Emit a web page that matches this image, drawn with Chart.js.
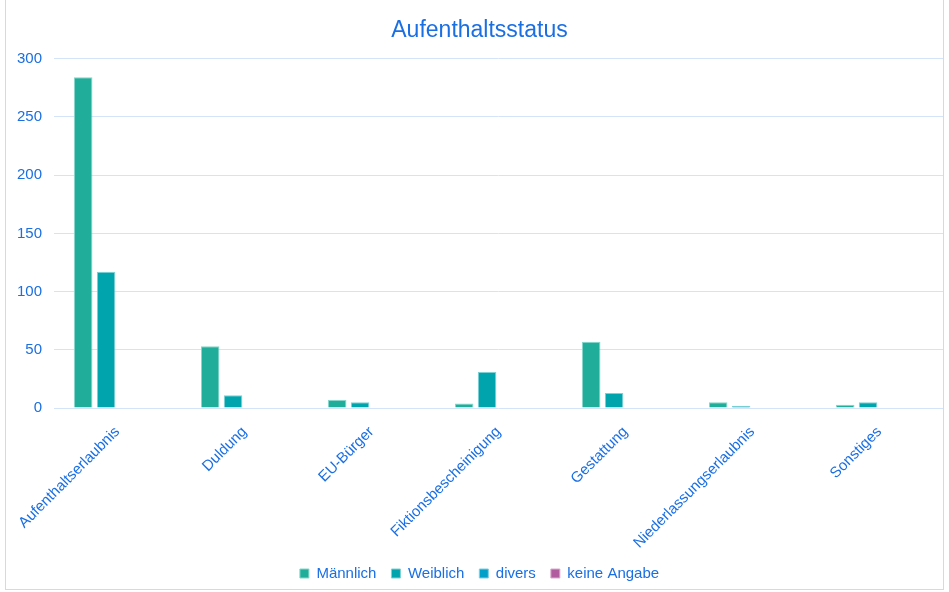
<!DOCTYPE html>
<html>
<head>
<meta charset="utf-8">
<script src="https://cdn.jsdelivr.net/npm/chart.js@4/dist/chart.umd.min.js"></script>
<style>
  html, body { margin: 0; padding: 0; background: #fff; }
  .wrap {
    position: absolute; left: 5px; top: 0; width: 939px; height: 590px;
    border: 1px solid #c9dcf3; border-top: none; box-sizing: border-box;
  }
</style>
</head>
<body>
<div class="wrap"><canvas id="chart"></canvas></div>
<script>
const categories = ['Aufenthaltserlaubnis', 'Duldung', 'EU-Bürger', 'Fiktionsbescheinigung', 'Gestattung', 'Niederlassungserlaubnis', 'Sonstiges'];
const maennlich = [284, 53, 7, 4, 57, 5, 3];
const weiblich = [117, 11, 5, 31, 13, 2, 5];
const divers = [0, 0, 0, 0, 0, 0, 0];
const keineAngabe = [0, 0, 0, 0, 0, 0, 0];

const textColor = '#1a6fe3';
const gridColor = '#d3e3f8';
const fontFamily = 'Liberation Sans, Arial, sans-serif';

const mk = (label, data, fill, edge) => ({
  label, data,
  backgroundColor: fill,
  borderColor: edge,
  borderWidth: 1,
  categoryPercentage: 0.72,
  barPercentage: 0.81
});

new Chart(document.getElementById('chart'), {
  type: 'bar',
  data: {
    labels: categories,
    datasets: [
      mk('Männlich', maennlich, '#20ae9b', '#86d6cb'),
      mk('Weiblich', weiblich, '#00a4ad', '#7fd0d5'),
      mk('divers', divers, '#02a0c9', '#7fcfe4'),
      mk('keine Angabe', keineAngabe, '#b15c9f', '#d8abcd')
    ]
  },
  options: {
    responsive: true,
    maintainAspectRatio: false,
    animation: false,
    layout: { padding: { left: 10, right: 0, top: 6, bottom: -2 } },
    scales: {
      x: {
        grid: { display: false },
        border: { display: false },
        // let the rotated labels hang over the y axis, and into the legend gap
        afterFit: (s) => { s.paddingLeft = 0; s.height -= 8; },
        ticks: {
          color: textColor,
          font: { family: fontFamily, size: 15 },
          minRotation: 45, maxRotation: 45,
          padding: 7
        }
      },
      y: {
        min: 0, max: 300,
        grid: { color: gridColor, drawTicks: false },
        border: { display: false },
        afterFit: (s) => { s.width = 38; },
        ticks: {
          stepSize: 50,
          color: textColor,
          padding: 12,
          font: { family: fontFamily, size: 15 }
        }
      }
    },
    plugins: {
      title: {
        display: true,
        text: 'Aufenthaltsstatus',
        color: textColor,
        font: { family: fontFamily, size: 23, weight: 'normal' },
        padding: { top: 11, bottom: 14 }
      },
      legend: {
        position: 'bottom',
        labels: {
          color: textColor,
          boxWidth: 9, boxHeight: 9,
          padding: 15,
          font: { family: fontFamily, size: 15 }
        }
      },
      tooltip: { enabled: false }
    }
  }
});
</script>
</body>
</html>
